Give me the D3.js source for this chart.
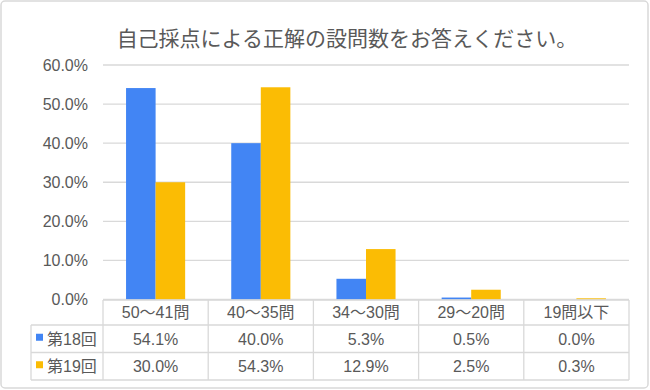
<!DOCTYPE html>
<html><head><meta charset="utf-8">
<script src="https://cdn.jsdelivr.net/npm/d3@7"></script>
<style>body{margin:0;background:#fff}svg{display:block}text{font-family:"Liberation Sans","Noto Sans CJK JP",Arial,sans-serif}</style>
</head><body><svg id="c" width="650" height="390"></svg>
<script>
const title = "自己採点による正解の設問数をお答えください。";
const categories = ["50～41問","40～35問","34～30問","29～20問","19問以下"];
const seriesNames = ["第18回","第19回"];
const s18 = [54.1, 40.0, 5.3, 0.5, 0.0];
const s19 = [30.0, 54.3, 12.9, 2.5, 0.3];
const yTicks = [0,10,20,30,40,50,60];
const colors = ["#4285F4","#FBBC04"];

const svg = d3.select("#c");
const font = '"Liberation Sans","Noto Sans CJK JP",Arial,sans-serif';
svg.append("rect").attr("x",1).attr("y",1).attr("width",647).attr("height",387)
  .attr("rx",4).attr("fill","#fff").attr("stroke","#d9d9d9").attr("stroke-width",1.5);

svg.append("text").attr("x",347).attr("y",46).attr("text-anchor","middle")
  .attr("font-size",21).attr("fill","#595959").text(title);

const x0 = d3.scaleBand().domain(categories).range([103,629]);
const y = d3.scaleLinear().domain([0,60]).range([299.5,65]);
const x1 = d3.scaleBand().domain(seriesNames).range([0,x0.bandwidth()]).paddingOuter(0.78);

// gridlines
svg.append("g").selectAll("line").data(yTicks).join("line")
  .attr("x1",103).attr("x2",629).attr("y1",d=>y(d)).attr("y2",d=>y(d))
  .attr("stroke","#d9d9d9").attr("stroke-width",1.3);

// y axis
const ya = svg.append("g").attr("transform","translate(103,0)")
  .call(d3.axisLeft(y).tickValues(yTicks).tickFormat(d=>d.toFixed(1)+"%").tickSize(0).tickPadding(15));
ya.select(".domain").remove();
ya.selectAll("text").attr("font-size",16).attr("fill","#595959").style("font-family",font);

// bars
const series = [s18, s19];
series.forEach((vals,si)=>{
  svg.append("g").selectAll("rect").data(vals).join("rect")
    .attr("x",(d,i)=>x0(categories[i])+x1(seriesNames[si]))
    .attr("width",x1.bandwidth())
    .attr("y",d=>y(d)).attr("height",d=>y(0)-y(d))
    .attr("fill",colors[si]);
});

// data table
const rows = [300,325,352.5,380];
const tl = 31, tr = 629;
const tg = svg.append("g").attr("stroke","#d9d9d9").attr("stroke-width",1.3).attr("fill","none");
tg.append("line").attr("x1",103).attr("x2",tr).attr("y1",rows[0]).attr("y2",rows[0]);
[1,2,3].forEach(r=>tg.append("line").attr("x1",tl).attr("x2",tr).attr("y1",rows[r]).attr("y2",rows[r]));
tg.append("line").attr("x1",tl).attr("x2",tl).attr("y1",rows[1]).attr("y2",rows[3]);
categories.forEach(c=>tg.append("line").attr("x1",x0(c)).attr("x2",x0(c)).attr("y1",rows[0]).attr("y2",rows[3]));
tg.append("line").attr("x1",tr).attr("x2",tr).attr("y1",rows[0]).attr("y2",rows[3]);

const cx = c=>x0(c)+x0.bandwidth()/2;
svg.append("g").selectAll("text").data(categories).join("text")
  .attr("x",d=>cx(d)).attr("y",(rows[0]+rows[1])/2).attr("dy","0.36em")
  .attr("text-anchor","middle").attr("font-size",16).attr("fill","#595959").text(d=>d);

series.forEach((vals,si)=>{
  const ym = (rows[si+1]+rows[si+2])/2;
  svg.append("g").selectAll("text").data(vals).join("text")
    .attr("x",(d,i)=>cx(categories[i])).attr("y",ym).attr("dy","0.36em")
    .attr("text-anchor","middle").attr("font-size",16).attr("fill","#595959").text(d=>d.toFixed(1)+"%");
  svg.append("rect").attr("x",36).attr("y",ym-5).attr("width",7).attr("height",7).attr("fill",colors[si]);
  svg.append("text").attr("x",47).attr("y",ym).attr("dy","0.36em")
    .attr("font-size",16).attr("fill","#595959").text(seriesNames[si]);
});
</script></body></html>
